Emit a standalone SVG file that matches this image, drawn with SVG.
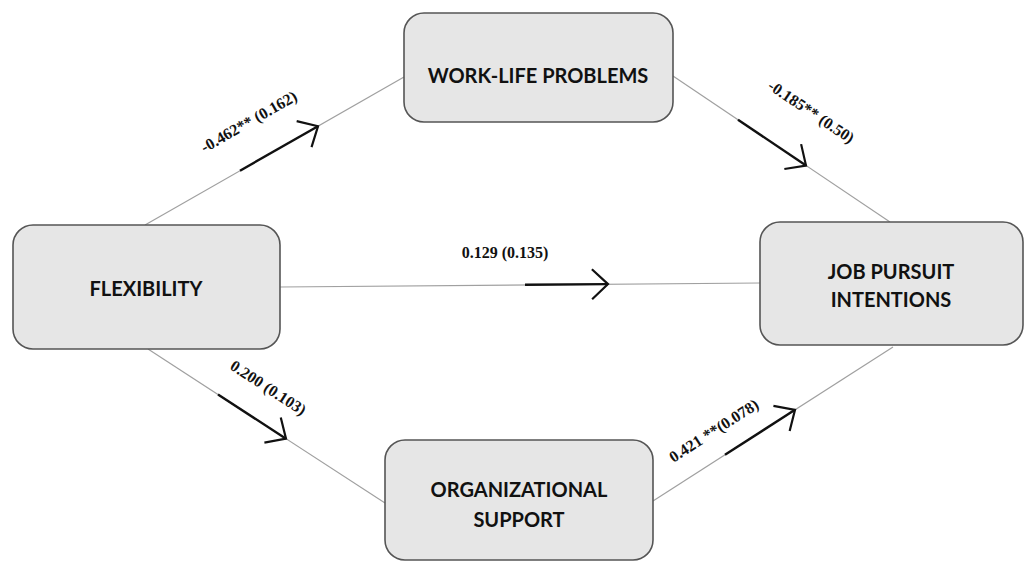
<svg xmlns="http://www.w3.org/2000/svg" width="1024" height="562" viewBox="0 0 1024 562">
<defs>
<style>
.box{fill:#e6e6e6;stroke:#555;stroke-width:1.6}
.nt{font-family:Lato,"Liberation Sans",sans-serif;font-weight:bold;font-size:20px;fill:#111;text-anchor:middle}
.ln{stroke:#a0a0a0;stroke-width:1.2;fill:none}
.th{stroke:#111;stroke-width:2.4;fill:none;marker-end:url(#ah)}
.lb{font-family:"Liberation Serif",serif;font-weight:bold;font-size:16px;fill:#111;text-anchor:middle}
</style>
<marker id="ah" markerUnits="userSpaceOnUse" markerWidth="40" markerHeight="40" viewBox="-20 -20 40 40" refX="0" refY="0" orient="auto">
<path d="M-16,-15 L0,0 L-16,15" fill="none" stroke="#111" stroke-width="2.2"/>
</marker>
</defs>
<rect width="1024" height="562" fill="#fff"/>
<g id="connectors">
<line class="ln" x1="145" y1="225" x2="404" y2="77"/>
<line class="ln" x1="673" y1="76" x2="890" y2="222"/>
<line class="ln" x1="280" y1="287" x2="760" y2="283"/>
<line class="ln" x1="148" y1="349" x2="385" y2="503"/>
<line class="ln" x1="653" y1="501" x2="893" y2="347"/>
<line class="th" x1="240" y1="170.7" x2="318" y2="126.2"/>
<line class="th" x1="738" y1="119.7" x2="806" y2="165.5"/>
<line class="th" x1="525" y1="284.8" x2="608" y2="284.1"/>
<line class="th" x1="218" y1="394.5" x2="286" y2="438.7"/>
<line class="th" x1="725" y1="454.8" x2="795" y2="409.8"/>
<text class="lb" transform="translate(249,122) rotate(-29.7)" y="5">-0.462** (0.162)</text>
<text class="lb" transform="translate(811,112) rotate(33.9)" y="5">-0.185** (0.50)</text>
<text class="lb" x="505" y="258">0.129 (0.135)</text>
<text class="lb" transform="translate(268,388) rotate(33)" y="5">0.200 (0.103)</text>
<text class="lb" transform="translate(714,431) rotate(-32.7)" y="5">0.421 **(0.078)</text>
</g>
<g id="flexibility">
<rect class="box" x="13" y="225" width="267" height="124" rx="20"/>
<text class="nt" x="146" y="296">FLEXIBILITY</text>
</g>
<g id="work-life-problems">
<rect class="box" x="404" y="13" width="269" height="109" rx="20"/>
<text class="nt" x="538" y="83">WORK-LIFE PROBLEMS</text>
</g>
<g id="job-pursuit-intentions">
<rect class="box" x="760" y="222" width="263" height="123" rx="20"/>
<text class="nt" x="891" y="279">JOB PURSUIT</text>
<text class="nt" x="891" y="307">INTENTIONS</text>
</g>
<g id="organizational-support">
<rect class="box" x="385" y="440" width="268" height="120" rx="20"/>
<text class="nt" x="519" y="497">ORGANIZATIONAL</text>
<text class="nt" x="519" y="527">SUPPORT</text>
</g>
</svg>
